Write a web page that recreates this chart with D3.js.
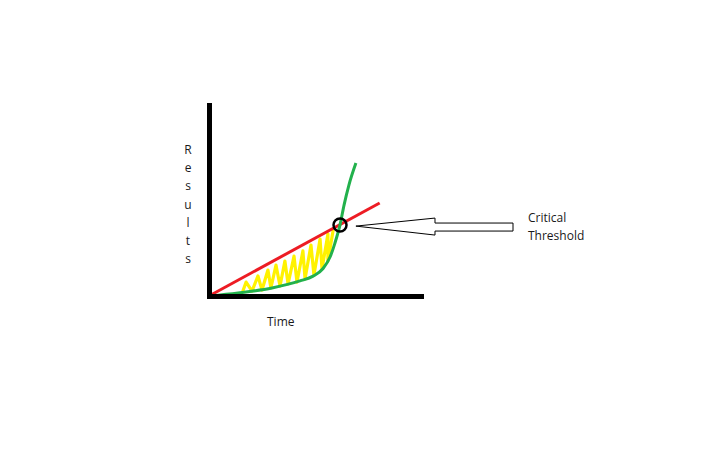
<!DOCTYPE html>
<html>
<head>
<meta charset="utf-8">
<script src="https://cdn.jsdelivr.net/npm/d3@7"></script>
<style>
  body { margin: 0; background: #fff; }
  svg { display: block; }
  .lbl { font-family: "Open Sans", sans-serif; font-size: 12px; fill: #1a1a1a; }
</style>
</head>
<body>
<div id="vis"></div>
<script>
// time / results in arbitrary units (0..100)
var linearLine = [[0, 0], [80.5, 48.7]];
var growthCurve = [[0, 0], [13.7, 1.6], [29.7, 4.2], [42.9, 7.9], [49.1, 10.4], [53.8, 14.4],
                   [57.1, 20.4], [59.4, 27.7], [61.8, 37.2], [63.7, 47.6], [66.0, 58.1], [69.3, 69.6]];
// yellow scribble between the lines (bottom, top, bottom, top ...)
var hatch = [[16.0, 2.6], [17.5, 7.3], [20.3, 2.6], [23.1, 10.5], [25.0, 3.1], [27.8, 13.6],
             [29.2, 4.2], [31.6, 16.2], [33.5, 5.2], [35.8, 18.3], [37.3, 6.3], [40.1, 20.9],
             [41.5, 7.3], [44.3, 23.6], [45.3, 8.9], [48.1, 26.7], [49.5, 11.0], [52.4, 29.8],
             [53.3, 14.1], [56.1, 32.5], [56.1, 18.3], [58.5, 34.0]];
var threshold = [61.8, 37.2];
var arrowPts = [[69.3, 36.6], [106.6, 40.8], [106.6, 38.2], [143.4, 38.2],
                [143.4, 34.0], [106.6, 34.0], [106.6, 31.9]];
var yLetters = ["R", "e", "s", "u", "l", "t", "s"];
var xTitle = "Time";
var noteLines = ["Critical", "Threshold"];

var W = 720, H = 465;
var svg = d3.select("#vis").append("svg")
  .attr("width", W).attr("height", H);

var x = d3.scaleLinear().domain([0, 100]).range([209, 421]);
var y = d3.scaleLinear().domain([0, 100]).range([296, 105]);

var line = d3.line()
  .x(function(d) { return x(d[0]); })
  .y(function(d) { return y(d[1]); });

// yellow fill scribbles
svg.append("path")
  .datum(hatch)
  .attr("d", line)
  .attr("fill", "none")
  .attr("stroke", "#fff200")
  .attr("stroke-width", 3.2)
  .attr("stroke-linejoin", "round")
  .attr("stroke-linecap", "round");

// red linear line
svg.append("path")
  .datum(linearLine)
  .attr("d", line)
  .attr("fill", "none")
  .attr("stroke", "#ed1c24")
  .attr("stroke-width", 3);

// green exponential curve
svg.append("path")
  .datum(growthCurve)
  .attr("d", line.curve(d3.curveMonotoneX))
  .attr("fill", "none")
  .attr("stroke", "#22b14c")
  .attr("stroke-width", 3);
line.curve(d3.curveLinear);

// axes (no ticks)
svg.append("g")
  .attr("class", "axis")
  .attr("transform", "translate(" + x(0) + ",0)")
  .call(d3.axisLeft(y).ticks(0).tickSizeOuter(0))
  .select(".domain")
  .attr("stroke", "#000")
  .attr("stroke-width", 5)
  .attr("stroke-linecap", "square");

svg.append("g")
  .attr("class", "axis")
  .attr("transform", "translate(0," + y(0) + ")")
  .call(d3.axisBottom(x).ticks(0).tickSizeOuter(0))
  .select(".domain")
  .attr("stroke", "#000")
  .attr("stroke-width", 5)
  .attr("stroke-linecap", "square");

// circle at crossing
svg.append("circle")
  .attr("cx", x(threshold[0]))
  .attr("cy", y(threshold[1]))
  .attr("r", 6.5)
  .attr("fill", "none")
  .attr("stroke", "#000")
  .attr("stroke-width", 2.5);

// hollow arrow
svg.append("path")
  .datum(arrowPts)
  .attr("d", function(d) { return line(d) + "Z"; })
  .attr("fill", "#fff")
  .attr("stroke", "#000")
  .attr("stroke-width", 1);

// labels
svg.append("g").selectAll("text")
  .data(yLetters)
  .enter().append("text")
  .attr("class", "lbl")
  .attr("x", x(0) - 21)
  .attr("y", function(d, i) { return 154 + i * 18.2; })
  .attr("text-anchor", "middle")
  .text(function(d) { return d; });

svg.append("text")
  .attr("class", "lbl")
  .attr("x", 267)
  .attr("y", 326)
  .text(xTitle);

svg.append("g").selectAll("text")
  .data(noteLines)
  .enter().append("text")
  .attr("class", "lbl")
  .attr("x", 528)
  .attr("y", function(d, i) { return 222 + i * 17.5; })
  .text(function(d) { return d; });
</script>
</body>
</html>
